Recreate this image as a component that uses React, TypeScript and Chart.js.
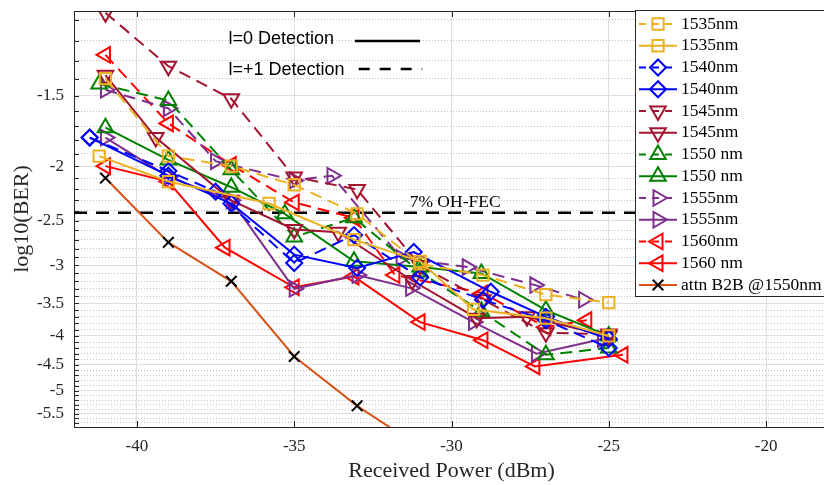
import React, { useEffect, useRef } from 'react';
import { Chart, registerables, LinearScale } from 'chart.js';

Chart.register(...registerables);

// ---------- data ----------
const xTicks = [-40, -35, -30, -25, -20];
const yMajorTicks = [-1.5, -2, -2.5, -3, -3.5, -4, -4.5, -5, -5.5];
const xRange = [-42, -18];
const yRange = [-5.8, -1.062];
const fecLevel = -2.42;

const x1535Dash = [-41, -39, -37, -35, -33, -31, -29, -27, -25];
const y1535Dash = [-1.4, -1.92, -2.0, -2.16, -2.43, -2.98, -3.12, -3.38, -3.49];
const x1535Solid = [-41.2, -39, -35.8, -33.1, -31, -29.3, -27, -25];
const y1535Solid = [-1.92, -2.13, -2.33, -2.7, -2.95, -3.59, -3.72, -4.0];

const x1540Dash = [-41.5, -39, -37.5, -35, -33.1, -31, -29, -27, -25];
const y1540Dash = [-1.78, -2.04, -2.22, -2.97, -2.65, -3.15, -3.45, -3.75, -4.2];
const x1540Solid = [-41.5, -39, -37, -35, -33, -31.2, -28.75, -27, -25];
const y1540Solid = [-1.78, -2.08, -2.33, -2.87, -3.03, -2.84, -3.34, -3.7, -4.05];

const x1545Dash = [-41, -39, -37, -35, -33, -31, -29, -27, -25];
const y1545Dash = [-1.07, -1.33, -1.52, -2.09, -2.2, -3.0, -3.45, -3.95, -3.97];
const x1545Solid = [-41, -39.4, -37, -35, -33.6, -31.25, -29.2, -27.6, -25];
const y1545Solid = [-1.38, -1.78, -2.3, -2.59, -2.62, -3.19, -3.72, -3.7, -4.0];

const x1550Dash = [-41.2, -39, -37, -35, -33.1, -31, -29.05, -27, -25];
const y1550Dash = [-1.43, -1.53, -2.03, -2.67, -2.47, -3.08, -3.62, -4.32, -4.2];
const x1550Solid = [-41, -39, -37, -35.3, -33.1, -31, -29.05, -27, -25];
const y1550Solid = [-1.71, -1.95, -2.18, -2.43, -2.95, -3.02, -3.1, -3.6, -4.0];

const x1555Dash = [-41, -39, -37.5, -35, -33.8, -31.6, -29.5, -27.35, -25.8];
const y1555Dash = [-1.465, -1.58, -1.96, -2.12, -2.08, -2.91, -3.02, -3.25, -3.45];
const x1555Solid = [-41, -39, -37, -35, -33, -31.3, -29.3, -27.3, -25.2];
const y1555Solid = [-1.78, -2.09, -2.3, -3.3, -3.12, -3.29, -3.78, -4.3, -4.05];

const x1560Dash = [-41, -39, -37, -35, -33.1, -31.8, -29, -27, -25.7];
const y1560Dash = [-1.27, -1.68, -1.99, -2.32, -2.47, -3.12, -3.36, -3.86, -3.75];
const x1560Solid = [-41, -39, -37.2, -35, -33.1, -31, -29, -27.35, -24.55];
const y1560Solid = [-2.0, -2.13, -2.79, -3.28, -3.14, -3.78, -4.07, -4.53, -4.32];

const xB2B = [-41, -39, -37, -35, -33, -31];
const yB2B = [-2.1, -2.73, -3.2, -4.35, -5.32, -6.3];

// ---------- styling ----------
const SERIF = "'Liberation Serif', 'Times New Roman', serif";
const SANS = "'Liberation Sans', Arial, sans-serif";
const AXIS = '#262626';
const DASH = [12, 7];

const C = {
  yellow: '#EDB120',
  blue: '#0000FF',
  darkred: '#A2142F',
  green: '#008000',
  purple: '#7E2F8E',
  red: '#FF0000',
  orange: '#D95319',
};

type Spec = {
  label: string; xs: number[]; ys: number[]; color: string; style: string;
  rot: number; dashed: boolean; r: number; markerColor?: string; lw?: number;
};

const series: Spec[] = [
  { label: '1535nm', xs: x1535Dash, ys: y1535Dash, color: C.yellow, style: 'rect', rot: 0, dashed: true, r: 8 },
  { label: '1535nm', xs: x1535Solid, ys: y1535Solid, color: C.yellow, style: 'rect', rot: 0, dashed: false, r: 8 },
  { label: '1540nm', xs: x1540Dash, ys: y1540Dash, color: C.blue, style: 'rectRot', rot: 0, dashed: true, r: 8 },
  { label: '1540nm', xs: x1540Solid, ys: y1540Solid, color: C.blue, style: 'rectRot', rot: 0, dashed: false, r: 8 },
  { label: '1545nm', xs: x1545Dash, ys: y1545Dash, color: C.darkred, style: 'triangle', rot: 180, dashed: true, r: 9 },
  { label: '1545nm', xs: x1545Solid, ys: y1545Solid, color: C.darkred, style: 'triangle', rot: 180, dashed: false, r: 9 },
  { label: '1550 nm', xs: x1550Dash, ys: y1550Dash, color: C.green, style: 'triangle', rot: 0, dashed: true, r: 9 },
  { label: '1550 nm', xs: x1550Solid, ys: y1550Solid, color: C.green, style: 'triangle', rot: 0, dashed: false, r: 9 },
  { label: '1555nm', xs: x1555Dash, ys: y1555Dash, color: C.purple, style: 'triangle', rot: 90, dashed: true, r: 9 },
  { label: '1555nm', xs: x1555Solid, ys: y1555Solid, color: C.purple, style: 'triangle', rot: 90, dashed: false, r: 9 },
  { label: '1560nm', xs: x1560Dash, ys: y1560Dash, color: C.red, style: 'triangle', rot: 270, dashed: true, r: 9 },
  { label: '1560 nm', xs: x1560Solid, ys: y1560Solid, color: C.red, style: 'triangle', rot: 270, dashed: false, r: 9 },
  { label: 'attn B2B @1550nm', xs: xB2B, ys: yB2B, color: C.orange, style: 'crossRot', rot: 0, dashed: false, r: 7.5, markerColor: '#000000', lw: 2 },
];

// grid positions every 0.1 between the axis limits
const yGridValues: number[] = [];
for (let k = 11; k <= 58; k++) yGridValues.push(-k / 10);
const isMajor = (v: number) => yMajorTicks.some((m) => Math.abs(m - v) < 1e-9);

// ---------- custom BER scale: pixel ~ ln(-value) ----------
class BerScale extends LinearScale {
  static id = 'ber';
  static defaults = {};
  getPixelForValue(value: number) {
    const a = Math.log(-this.min);
    const b = Math.log(-this.max);
    const v = Math.min(value, -1e-6);
    return this.getPixelForDecimal((a - Math.log(-v)) / (a - b));
  }
  getValueForPixel(pixel: number) {
    const a = Math.log(-this.min);
    const b = Math.log(-this.max);
    const d = this.getDecimalForPixel(pixel);
    return -Math.exp(a - d * (a - b));
  }
  buildTicks() {
    return yGridValues.map((v) => ({ value: v }));
  }
}
Chart.register(BerScale as any);

function drawMarker(ctx: CanvasRenderingContext2D, style: string, rotDeg: number, r: number, x: number, y: number) {
  let rad = (rotDeg * Math.PI) / 180;
  ctx.beginPath();
  if (style === 'triangle') {
    ctx.moveTo(x + Math.sin(rad) * r, y - Math.cos(rad) * r);
    rad += (2 * Math.PI) / 3;
    ctx.lineTo(x + Math.sin(rad) * r, y - Math.cos(rad) * r);
    rad += (2 * Math.PI) / 3;
    ctx.lineTo(x + Math.sin(rad) * r, y - Math.cos(rad) * r);
    ctx.closePath();
  } else if (style === 'rect') {
    const s = Math.SQRT1_2 * r;
    ctx.rect(x - s, y - s, 2 * s, 2 * s);
  } else if (style === 'rectRot') {
    ctx.moveTo(x - r, y);
    ctx.lineTo(x, y - r);
    ctx.lineTo(x + r, y);
    ctx.lineTo(x, y + r);
    ctx.closePath();
  } else if (style === 'crossRot') {
    const s = Math.SQRT1_2 * r;
    ctx.moveTo(x - s, y - s);
    ctx.lineTo(x + s, y + s);
    ctx.moveTo(x + s, y - s);
    ctx.lineTo(x - s, y + s);
  }
  ctx.stroke();
}

const extrasPlugin = {
  id: 'extras',
  afterDatasetsDraw(chart: any) {
    const { ctx, chartArea: ca, scales } = chart;
    const xs = scales.x;
    const ys = scales.y;
    ctx.save();

    // box top line
    ctx.strokeStyle = AXIS;
    ctx.lineWidth = 1;
    ctx.setLineDash([]);
    ctx.beginPath();
    ctx.moveTo(ca.left, Math.round(ca.top) + 0.5);
    ctx.lineTo(ca.right, Math.round(ca.top) + 0.5);
    ctx.stroke();

    // inward tick marks
    ctx.beginPath();
    ys.ticks.forEach((t: any) => {
      const py = Math.round(ys.getPixelForValue(t.value)) + 0.5;
      ctx.moveTo(ca.left, py);
      ctx.lineTo(ca.left + 5, py);
    });
    xs.ticks.forEach((t: any) => {
      const px = Math.round(xs.getPixelForValue(t.value)) + 0.5;
      ctx.moveTo(px, ca.top);
      ctx.lineTo(px, ca.top + 6);
      ctx.moveTo(px, ca.bottom);
      ctx.lineTo(px, ca.bottom - 6);
    });
    ctx.stroke();

    // FEC label
    ctx.fillStyle = '#000';
    ctx.font = `17.5px ${SERIF}`;
    ctx.textBaseline = 'alphabetic';
    ctx.textAlign = 'left';
    ctx.fillText('7% OH-FEC', xs.getPixelForValue(-31.33), ys.getPixelForValue(fecLevel) - 6);

    // detection annotations
    ctx.font = `18px ${SANS}`;
    ctx.textBaseline = 'middle';
    const tx = xs.getPixelForValue(-37.09);
    const y0 = ys.getPixelForValue(-1.19);
    const y1 = ys.getPixelForValue(-1.351);
    ctx.fillText('l=0 Detection', tx, y0);
    ctx.fillText('l=+1 Detection', tx, y1);
    ctx.strokeStyle = '#000';
    ctx.lineWidth = 2.5;
    ctx.beginPath();
    ctx.moveTo(xs.getPixelForValue(-33.07), y0 + 2);
    ctx.lineTo(xs.getPixelForValue(-31.0), y0 + 2);
    ctx.stroke();
    ctx.setLineDash([11, 10]);
    ctx.beginPath();
    ctx.moveTo(xs.getPixelForValue(-32.95), y1 - 1);
    ctx.lineTo(xs.getPixelForValue(-30.93), y1 - 1);
    ctx.stroke();
    ctx.setLineDash([]);

    // legend
    const lx = 635.5;
    const ly = 10.5;
    ctx.fillStyle = '#fff';
    ctx.fillRect(lx, ly, 300, 286);
    ctx.strokeStyle = AXIS;
    ctx.lineWidth = 1;
    ctx.strokeRect(lx, ly, 300, 286);
    ctx.font = `17.5px ${SERIF}`;
    ctx.textBaseline = 'middle';
    series.forEach((s, i) => {
      const cy = 24 + 21.75 * i;
      ctx.strokeStyle = s.color;
      ctx.lineWidth = s.lw ?? 2;
      ctx.setLineDash(s.dashed ? [7, 6] : []);
      ctx.beginPath();
      ctx.moveTo(639, cy);
      ctx.lineTo(677, cy);
      ctx.stroke();
      ctx.setLineDash([]);
      ctx.strokeStyle = s.markerColor ?? s.color;
      ctx.lineWidth = 2;
      drawMarker(ctx, s.style, s.rot, s.r, 658, cy);
      ctx.fillStyle = '#000';
      ctx.fillText(s.label, 681, cy);
    });
    ctx.restore();
  },
};

export default function App() {
  const ref = useRef<HTMLCanvasElement>(null);
  useEffect(() => {
    if (!ref.current) return;
    Chart.defaults.font.family = SERIF;
    const datasets: any[] = series.map((s) => ({
      label: s.label,
      data: s.xs.map((x, i) => ({ x, y: s.ys[i] })),
      borderColor: s.color,
      backgroundColor: 'rgba(0,0,0,0)',
      borderWidth: s.lw ?? 2,
      borderDash: s.dashed ? DASH : [],
      pointStyle: s.style,
      pointRotation: s.rot,
      pointRadius: s.r,
      pointBorderColor: s.markerColor ?? s.color,
      pointBackgroundColor: 'rgba(0,0,0,0)',
      pointBorderWidth: 2,
      fill: false,
      tension: 0,
    }));
    datasets.push({
      label: 'FEC',
      data: [
        { x: xRange[0], y: fecLevel },
        { x: xRange[1], y: fecLevel },
      ],
      borderColor: '#000',
      borderWidth: 2.5,
      borderDash: [13, 9],
      pointRadius: 0,
      fill: false,
    });

    const chart = new Chart(ref.current, {
      type: 'line',
      data: { datasets },
      plugins: [extrasPlugin],
      options: {
        animation: false,
        responsive: false,
        events: [],
        layout: { padding: { top: 11, right: 8, left: 0, bottom: 0 } },
        plugins: { legend: { display: false }, tooltip: { enabled: false } },
        scales: {
          x: {
            type: 'linear',
            min: xRange[0],
            max: xRange[1],
            afterBuildTicks: (sc: any) => {
              sc.ticks = xTicks.map((v) => ({ value: v }));
            },
            afterFit: (sc: any) => {
              sc.height = 58;
              sc.paddingLeft = 0;
              sc.paddingRight = 0;
            },
            ticks: {
              autoSkip: false,
              maxRotation: 0,
              padding: 9,
              color: AXIS,
              font: { size: 17, family: SERIF },
              callback: (v: any) => String(v),
            },
            grid: { color: '#dedede', lineWidth: 1, drawTicks: false },
            border: { color: AXIS, width: 1 },
            title: {
              display: true,
              text: 'Received Power (dBm)',
              color: AXIS,
              font: { size: 22, family: SERIF },
              padding: { top: 0, bottom: 1 },
            },
          },
          y: {
            type: 'ber' as any,
            min: yRange[0],
            max: yRange[1],
            afterFit: (sc: any) => {
              sc.width = 74;
              sc.paddingTop = 0;
              sc.paddingBottom = 0;
            },
            ticks: {
              autoSkip: false,
              padding: 10,
              color: AXIS,
              font: { size: 17, family: SERIF },
              callback: (v: any) => (isMajor(v) ? String(v) : ''),
            },
            grid: {
              drawTicks: false,
              lineWidth: 1,
              color: (c: any) => (c.tick && isMajor(c.tick.value) ? '#dedede' : '#c2c2c2'),
            },
            border: {
              color: AXIS,
              width: 1,
              dash: (c: any) => (c.tick && !isMajor(c.tick.value) ? [1, 2] : []),
            },
            title: {
              display: true,
              text: 'log10(BER)',
              color: AXIS,
              font: { size: 22, family: SERIF },
              padding: { top: 9, bottom: 0 },
            },
          },
        },
      } as any,
    });
    return () => chart.destroy();
  }, []);

  return (
    <div
      style={{
        position: 'fixed',
        left: 0,
        top: 0,
        width: 824,
        height: 485,
        overflow: 'hidden',
        background: '#fff',
      }}
    >
      <canvas ref={ref} width={840} height={485} style={{ display: 'block' }} />
    </div>
  );
}
